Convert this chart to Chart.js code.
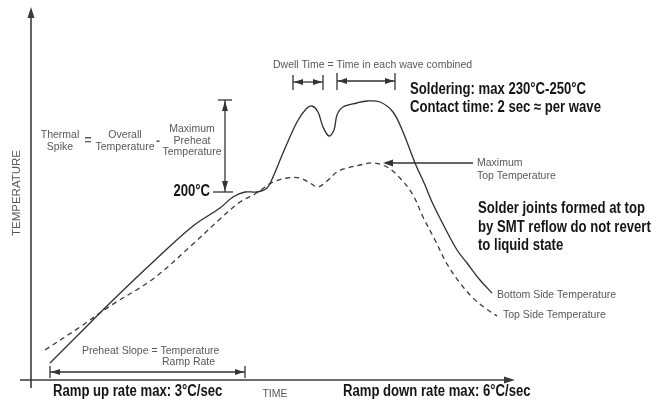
<!DOCTYPE html>
<html>
<head>
<meta charset="utf-8">
<script src="https://cdn.jsdelivr.net/npm/chart.js@4"></script>
<style>
  body { margin: 0; background: #fff; }
  #profile { display: block; }
</style>
</head>
<body>
<canvas id="profile" width="660" height="402"></canvas>
<script>
// schematic units: time and temperature measured from the axis origin
const bottomTime = [19, 49, 79, 122, 162, 189, 202, 214, 226, 236, 242, 252, 266, 275, 281, 287, 292, 298, 303, 306, 312, 326, 336, 349, 362, 372, 384, 394, 401, 414, 426, 436, 449, 461];
const bottomTemp = [17, 47, 77, 118, 154, 172, 183, 188, 188, 192, 203, 227, 258, 271, 274, 268, 253, 244, 250, 265, 273, 277, 279, 278, 268, 248, 217, 195, 178, 152, 130, 117, 100, 87];
const topTime = [14, 49, 79, 122, 162, 189, 209, 224, 234, 242, 256, 269, 279, 287, 296, 306, 316, 329, 342, 356, 369, 382, 392, 404, 416, 429, 442, 454, 466];
const topTemp = [30, 53, 74, 101, 136, 161, 178, 186, 193, 198, 202, 202, 197, 193, 199, 208, 212, 215, 217, 213, 202, 185, 163, 140, 116, 97, 82, 72, 64];

const seriesLabels = ['Bottom Side Temperature', 'Top Side Temperature'];

const grey = '#585858';
const ink = '#151515';
const thin = '10.5px "Liberation Sans", Arial, sans-serif';
const bold = 'bold 16px "Liberation Sans", Arial, sans-serif';

function toPoints(xs, ys) {
  return xs.map((x, i) => ({ x: x, y: ys[i] }));
}

const notes = {
  id: 'notes',
  afterDraw(chart) {
    const ctx = chart.ctx;
    const sx = chart.scales.x, sy = chart.scales.y;
    const X = v => sx.getPixelForValue(v);
    const Y = v => sy.getPixelForValue(v);

    const line = (x1, y1, x2, y2, w, c) => {
      ctx.beginPath();
      ctx.lineWidth = w || 1;
      ctx.strokeStyle = c || '#333';
      ctx.moveTo(X(x1), Y(y1));
      ctx.lineTo(X(x2), Y(y2));
      ctx.stroke();
    };
    // filled arrow head at (x,y) pointing along dir (radians, screen coords)
    const head = (x, y, dir, len, half, c) => {
      ctx.save();
      ctx.translate(X(x), Y(y));
      ctx.rotate(dir);
      ctx.beginPath();
      ctx.moveTo(0, 0);
      ctx.lineTo(-len, -half);
      ctx.lineTo(-len, half);
      ctx.closePath();
      ctx.fillStyle = c || '#333';
      ctx.fill();
      ctx.restore();
    };
    const text = (s, x, y, font, color, align) => {
      ctx.font = font;
      ctx.fillStyle = color;
      ctx.textAlign = align || 'left';
      ctx.textBaseline = 'middle';
      ctx.fillText(s, X(x), Y(y));
    };
    // condensed bold callout, squeezed horizontally like the original typeface
    ctx.font = bold;
    const squeeze = 176 / ctx.measureText('Soldering: max 230°C-250°C').width;
    const callout = (s, x, y, align) => {
      ctx.save();
      ctx.font = bold;
      ctx.fillStyle = ink;
      ctx.textAlign = align || 'left';
      ctx.textBaseline = 'middle';
      ctx.translate(X(x), Y(y));
      ctx.scale(squeeze, 1);
      ctx.fillText(s, 0, 0);
      ctx.restore();
    };
    // horizontal double arrow with end bars
    const span = (x1, x2, y, barUp, barDown) => {
      line(x1, y, x2, y, 1.3, '#333');
      line(x1, y + barUp, x1, y - barDown, 1.3, '#333');
      line(x2, y + barUp, x2, y - barDown, 1.3, '#333');
      head(x1 + 1, y, Math.PI, 9, 3, '#333');
      head(x2 - 1, y, 0, 9, 3, '#333');
    };

    ctx.save();
    // axes
    line(0, -8, 0, 365, 1.6, '#3a3a3a');
    head(0, 373, -Math.PI / 2, 11, 3.5, '#3a3a3a');
    line(-11, 0, 476, 0, 1.6, '#3a3a3a');
    head(484, 0, 0, 11, 3.5, '#3a3a3a');

    // axis titles
    ctx.save();
    ctx.translate(X(-14), Y(187));
    ctx.rotate(-Math.PI / 2);
    ctx.font = '11.5px "Liberation Sans", Arial, sans-serif';
    ctx.fillStyle = grey;
    ctx.textAlign = 'center';
    ctx.textBaseline = 'middle';
    ctx.fillText('TEMPERATURE', 0, 0);
    ctx.restore();
    text('TIME', 244, -14, thin, grey, 'center');

    // bold callouts
    callout('Ramp up rate max: 3°C/sec', 22, -12);
    callout('Ramp down rate max: 6°C/sec', 312, -12);
    callout('Soldering: max 230°C-250°C', 379, 290);
    callout('Contact time: 2 sec \u2248 per wave', 379, 272);
    callout('Solder joints formed at top', 447, 171);
    callout('by SMT reflow do not revert', 447, 152);
    callout('to liquid state', 447, 134);
    callout('200°C', 179, 188, 'right');

    // thermal spike
    line(182, 188, 202, 188, 1.3, '#333');
    line(187, 280, 201, 280, 1.3, '#333');
    line(194, 280, 194, 188, 1.3, '#333');
    head(194, 279, -Math.PI / 2, 10, 3, '#333');
    head(194, 189, Math.PI / 2, 10, 3, '#333');
    text('Thermal', 29, 245, thin, grey, 'center');
    text('Spike', 29, 233, thin, grey, 'center');
    text('=', 57, 239, 'bold 12px "Liberation Sans", Arial, sans-serif', grey, 'center');
    text('Overall', 94, 245, thin, grey, 'center');
    text('Temperature', 94, 233, thin, grey, 'center');
    text('-', 127, 238, 'bold 12px "Liberation Sans", Arial, sans-serif', grey, 'center');
    text('Maximum', 161, 251, thin, grey, 'center');
    text('Preheat', 161, 239, thin, grey, 'center');
    text('Temperature', 161, 228, thin, grey, 'center');

    // dwell time
    text('Dwell Time = Time in each wave combined', 242, 315, thin, grey);
    span(262, 292, 298, 7, 8);
    span(306, 364, 299, 8, 9);

    // maximum top temperature pointer
    line(442, 217, 360, 217, 1.3, '#333');
    head(352, 217, Math.PI, 10, 3.5, '#333');
    text('Maximum', 446, 217, thin, grey);
    text('Top Temperature', 446, 204, thin, grey);

    // series labels
    text(seriesLabels[0], 466, 85, thin, grey);
    text(seriesLabels[1], 472, 65, thin, grey);

    // preheat slope
    text('Preheat Slope = Temperature', 51, 29, thin, grey);
    text('Ramp Rate', 131, 18, thin, grey);
    span(19, 214, 8, 6, 6);
    ctx.restore();
  }
};

new Chart(document.getElementById('profile'), {
  type: 'line',
  data: {
    datasets: [{
      label: seriesLabels[0],
      data: toPoints(bottomTime, bottomTemp),
      borderColor: '#2e2e2e',
      borderWidth: 1.3,
      pointRadius: 0,
      tension: 0.35,
      fill: false
    }, {
      label: seriesLabels[1],
      data: toPoints(topTime, topTemp),
      borderColor: '#3a3a3a',
      borderWidth: 1.3,
      borderDash: [5, 4],
      pointRadius: 0,
      tension: 0.35,
      fill: false
    }]
  },
  options: {
    responsive: false,
    animation: false,
    layout: { padding: 0 },
    plugins: { legend: { display: false }, tooltip: { enabled: false } },
    scales: {
      x: { type: 'linear', display: false, min: -31, max: 629 },
      y: { type: 'linear', display: false, min: -22, max: 380 }
    }
  },
  plugins: [notes]
});
</script>
</body>
</html>
